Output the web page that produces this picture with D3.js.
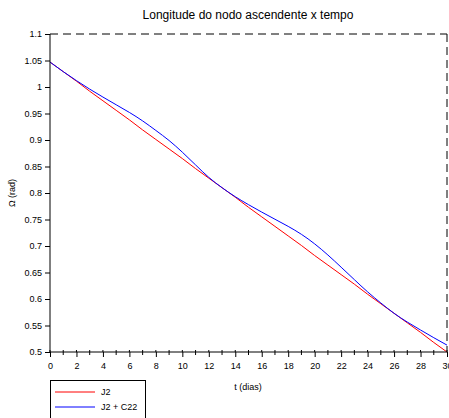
<!DOCTYPE html>
<html><head><meta charset="utf-8">
<script src="https://cdn.jsdelivr.net/npm/d3@7"></script>
<style>body{margin:0;background:#fff;}svg{display:block;font-family:"Liberation Sans",Arial,sans-serif;}</style>
</head><body>
<svg id="c" width="449" height="418"></svg>
<script>
const tDays = [0,1,2,3,4,5,6,7,8,9,10,11,12,13,14,15,16,17,18,19,20,21,22,23,24,25,26,27,28,29,30];
const omegaJ2 = [1.047,1.029,1.011,0.992,0.974,0.956,0.938,0.919,0.901,0.883,0.865,0.846,0.828,0.810,0.792,0.773,0.755,0.737,0.719,0.701,0.682,0.664,0.646,0.628,0.609,0.591,0.573,0.555,0.537,0.518,0.500];
const omegaJ2C22 = [1.047,1.029,1.012,0.996,0.981,0.9665,0.952,0.936,0.918,0.899,0.877,0.853,0.8295,0.810,0.793,0.778,0.764,0.7505,0.737,0.722,0.704,0.683,0.660,0.6365,0.6135,0.5925,0.573,0.5565,0.5415,0.527,0.513];
const seriesNames = ["J2","J2 + C22"];
const seriesColors = ["#ff0000","#0000ff"];
const xTicks = [0,2,4,6,8,10,12,14,16,18,20,22,24,26,28,30];
const yTicks = [0.5,0.55,0.6,0.65,0.7,0.75,0.8,0.85,0.9,0.95,1,1.05,1.1];
const titleText = "Longitude do nodo ascendente x tempo";
const xLabel = "t (dias)";
const yLabel = "Ω (rad)";

const svg = d3.select("#c");
const L=50,R=447,T=34,B=352;
const x = d3.scaleLinear().domain([0,30]).range([L,R]);
const y = d3.scaleLinear().domain([0.5,1.1]).range([B,T]);

svg.append("text").attr("x",248).attr("y",19).attr("text-anchor","middle")
  .attr("font-size",12).text(titleText);

// top and right dashed borders
svg.append("line").attr("x1",L).attr("x2",R).attr("y1",T).attr("y2",T)
  .attr("stroke","#000").attr("stroke-dasharray","8,5");
svg.append("line").attr("x1",R).attr("x2",R).attr("y1",T).attr("y2",B)
  .attr("stroke","#000").attr("stroke-dasharray","8,5");

// lines
const series=[omegaJ2,omegaJ2C22];
const line = d3.line().x((d,i)=>x(tDays[i])).y(d=>y(d)).curve(d3.curveNatural);
series.forEach((s,k)=>{
  svg.append("path").datum(s).attr("d",line).attr("fill","none")
    .attr("stroke",seriesColors[k]).attr("stroke-width",1);
});

// left axis
const yAxis = d3.axisLeft(y).tickValues(yTicks).tickSize(5).tickPadding(3)
  .tickFormat(d=>String(+d.toFixed(2)));
const gy = svg.append("g").attr("transform",`translate(${L},0)`).call(yAxis);
gy.select(".domain").attr("d",`M0,${T}V${B}`);
gy.selectAll("text").attr("font-size",9).attr("font-family","Liberation Sans, Arial, sans-serif");

// bottom axis
const gx = svg.append("g").attr("transform",`translate(0,${B})`);
gx.call(d3.axisBottom(x).tickValues(xTicks).tickSize(5).tickPadding(6).tickFormat(d3.format("d")));
gx.select(".domain").attr("d",`M${L},0H${R}`);
gx.selectAll("text").attr("font-size",9).attr("font-family","Liberation Sans, Arial, sans-serif");
gx.selectAll(".minor").data(tDays.filter(d=>d%2===1)).enter().append("line")
  .attr("class","minor").attr("x1",d=>x(d)).attr("x2",d=>x(d)).attr("y1",-2).attr("y2",3).attr("stroke","#000");
gx.selectAll(".up").data(xTicks).enter().append("line")
  .attr("x1",d=>x(d)).attr("x2",d=>x(d)).attr("y1",-2).attr("y2",0).attr("stroke","#000");

svg.append("text").attr("x",248).attr("y",390).attr("text-anchor","middle")
  .attr("font-size",9).text(xLabel);
svg.append("text").attr("transform","translate(15,193) rotate(-90)").attr("text-anchor","middle")
  .attr("font-size",9).text(yLabel);

// legend
svg.append("rect").attr("x",50.5).attr("y",380.5).attr("width",95).attr("height",50)
  .attr("fill","#fff").attr("stroke","#000");
seriesNames.forEach((n,k)=>{
  const yy = 392 + k*15;
  svg.append("line").attr("x1",55).attr("x2",95).attr("y1",yy).attr("y2",yy)
    .attr("stroke",seriesColors[k]).attr("stroke-width",1);
  svg.append("text").attr("x",101).attr("y",yy+3).attr("font-size",9).text(n);
});
</script>
</body></html>
